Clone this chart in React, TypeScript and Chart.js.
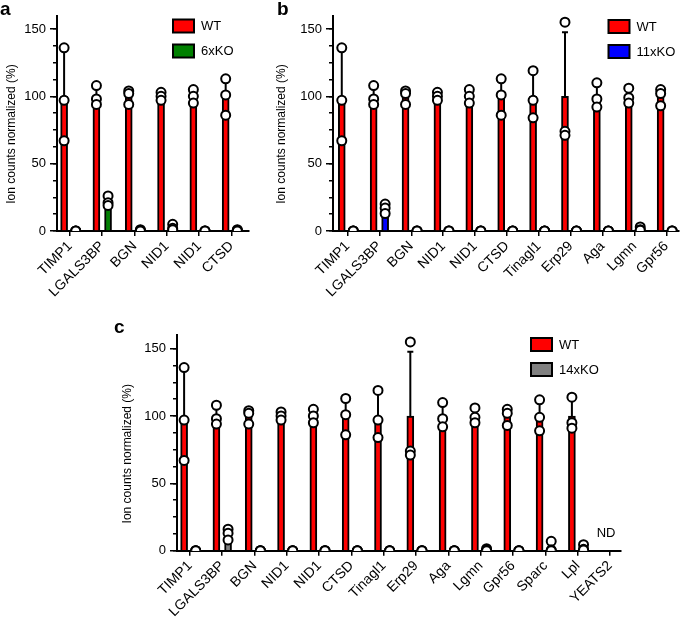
import React, { useEffect, useRef } from 'react';
import { Chart, registerables } from 'chart.js';

Chart.register(...registerables);

const FONT = "'Liberation Sans', Arial, Helvetica, sans-serif";

// Categories
const genesA = ['TIMP1', 'LGALS3BP', 'BGN', 'NID1', 'NID1', 'CTSD'];
const genesB = ['TIMP1', 'LGALS3BP', 'BGN', 'NID1', 'NID1', 'CTSD', 'Tinagl1', 'Erp29', 'Aga', 'Lgmn', 'Gpr56'];
const genesC = ['TIMP1', 'LGALS3BP', 'BGN', 'NID1', 'NID1', 'CTSD', 'Tinagl1', 'Erp29', 'Aga', 'Lgmn', 'Gpr56', 'Sparc', 'Lpl', 'YEATS2'];

// WT replicate values (%), one triple per gene (null = not detected)
const wtReplicates: (number[] | null)[] = [
  [136, 97, 67], [108, 98, 94], [104, 102, 94], [103, 100, 97], [105, 100, 95], [113, 101, 86],
  [119, 97, 84], [155, 74, 71], [110, 98, 92], [106, 99, 95], [105, 102, 93], [112, 99, 89],
  [114, 95, 91], null,
];

// KO replicate values (%)
const ko6Replicates: (number[] | null)[] = [
  [0, 0, 0], [26, 21, 19], [1, 0.5, 0], [5, 2, 1], [0, 0, 0], [1, 0.5, 0],
];
const ko11Replicates: (number[] | null)[] = [
  [0, 0, 0], [20, 17, 13], [0, 0, 0], [0, 0, 0], [0, 0, 0], [0, 0, 0],
  [0, 0, 0], [0, 0, 0], [0, 0, 0], [3, 1, 0.5], [0, 0, 0],
];
const ko14Replicates: (number[] | null)[] = [
  [0, 0, 0], [16, 13, 8], [0, 0, 0], [0, 0, 0], [0, 0, 0], [0, 0, 0],
  [0, 0, 0], [0, 0, 0], [0, 0, 0], [1.5, 0.5, 0], [0, 0, 0], [7, 0.5, 0],
  [4.5, 1, 0.5], null,
];

// Axis ticks
const yMajorTicks = [0, 50, 100, 150];
const yMinorTicks = [0, 12.5, 25, 37.5, 50, 62.5, 75, 87.5, 100, 112.5, 125, 137.5, 150];
const yMax = 160;
const yTitle = 'Ion counts normalized (%)';

const mean = (a: number[]) => a.reduce((s, v) => s + v, 0) / a.length;
const sd = (a: number[]) => {
  const m = mean(a);
  return Math.sqrt(a.reduce((s, v) => s + (v - m) * (v - m), 0) / (a.length - 1));
};

type PanelCfg = {
  letter: string;
  genes: string[];
  wt: (number[] | null)[];
  ko: (number[] | null)[];
  koLabel: string;
  koColor: string;
  left: number; top: number; width: number; height: number;
  yWidth: number; padTop: number; padRight: number; xHeight: number;
  xMin: number; xMax: number; off: number;
  titleX: number; titleValue: number;
  legendX: number; legendY: number;
  ndIndex?: number;
};

const decorPlugin = {
  id: 'decor',
  afterDraw(chart: any, _args: any, opts: any) {
    const { ctx, scales } = chart;
    const y = scales.y;
    const x = scales.x;
    ctx.save();
    // y-axis title
    ctx.translate(opts.titleX, y.getPixelForValue(opts.titleValue));
    ctx.rotate(-Math.PI / 2);
    ctx.font = `12px ${FONT}`;
    ctx.fillStyle = '#000';
    ctx.textAlign = 'center';
    ctx.textBaseline = 'middle';
    ctx.fillText(opts.title, 0, 0);
    ctx.restore();
    // legend
    ctx.save();
    ctx.font = `13px ${FONT}`;
    ctx.textBaseline = 'middle';
    ctx.textAlign = 'left';
    const bars = chart.data.datasets.filter((d: any) => d.type === 'bar');
    bars.forEach((d: any, i: number) => {
      const lx = opts.legendX;
      const ly = opts.legendY + i * 25;
      ctx.fillStyle = d.backgroundColor;
      ctx.fillRect(lx, ly, 21, 13);
      ctx.lineWidth = 2;
      ctx.strokeStyle = '#000';
      ctx.strokeRect(lx, ly, 21, 13);
      ctx.fillStyle = '#000';
      ctx.fillText(d.label, lx + 28, ly + 7);
    });
    // ND label
    if (opts.ndIndex !== undefined) {
      ctx.textAlign = 'center';
      ctx.fillText('ND', x.getPixelForValue(opts.ndIndex) - 4, y.getPixelForValue(13));
    }
    ctx.restore();
  },
};

function buildConfig(p: PanelCfg): any {
  const barSet = (reps: (number[] | null)[], off: number) =>
    reps.flatMap((r, i) => (r ? [{ x: i + off, y: mean(r) }] : []));
  const errSet = (reps: (number[] | null)[], off: number) =>
    reps.flatMap((r, i) =>
      r ? [{ x: i + off, y: mean(r) }, { x: i + off, y: mean(r) + sd(r) }, { x: i + off, y: null }] : []
    );
  const ptSet = (reps: (number[] | null)[], off: number) =>
    reps.flatMap((r, i) => (r ? r.map((v) => ({ x: i + off, y: v })) : []));

  const barCommon = {
    type: 'bar',
    grouped: false,
    barThickness: 7,
    borderWidth: 2,
    borderColor: '#000',
    order: 3,
  };
  const errCommon = {
    type: 'line',
    borderColor: '#000',
    borderWidth: 2,
    pointStyle: 'line',
    pointRadius: (c: any) => (c.dataIndex % 3 === 1 ? 3 : 0),
    pointBorderColor: '#000',
    pointBorderWidth: 2,
    spanGaps: false,
    fill: false,
    order: 2,
  };
  const ptCommon = {
    type: 'scatter',
    pointRadius: 4.5,
    pointBackgroundColor: '#fff',
    pointBorderColor: '#000',
    pointBorderWidth: 2,
    order: 1,
  };

  return {
    type: 'bar',
    data: {
      datasets: [
        { ...barCommon, label: 'WT', backgroundColor: '#ff0000', data: barSet(p.wt, -p.off) },
        { ...barCommon, label: p.koLabel, backgroundColor: p.koColor, data: barSet(p.ko, p.off) },
        { ...errCommon, label: 'errWT', data: errSet(p.wt, -p.off) },
        { ...errCommon, label: 'errKO', data: errSet(p.ko, p.off) },
        { ...ptCommon, label: 'ptWT', data: ptSet(p.wt, -p.off) },
        { ...ptCommon, label: 'ptKO', data: ptSet(p.ko, p.off) },
      ],
    },
    options: {
      responsive: true,
      maintainAspectRatio: false,
      animation: false,
      events: [],
      layout: { padding: { left: 0, top: p.padTop, right: p.padRight, bottom: 0 } },
      plugins: {
        legend: { display: false },
        tooltip: { enabled: false },
        decor: {
          title: yTitle,
          titleX: p.titleX,
          titleValue: p.titleValue,
          legendX: p.legendX,
          legendY: p.legendY,
          ndIndex: p.ndIndex,
        },
      },
      scales: {
        x: {
          type: 'linear',
          min: p.xMin,
          max: p.xMax,
          position: 'bottom',
          offset: false,
          afterBuildTicks: (s: any) => {
            s.ticks = p.genes.map((_, i) => ({ value: i }));
          },
          afterFit: (s: any) => {
            s.height = p.xHeight;
          },
          ticks: {
            autoSkip: false,
            minRotation: 45,
            maxRotation: 45,
            padding: 2,
            color: '#000',
            font: { size: 14, family: FONT },
            callback: (v: number) => p.genes[v],
          },
          grid: { offset: false, drawOnChartArea: false, drawTicks: true, tickLength: 5, color: '#000', lineWidth: 1.5 },
          border: { display: true, color: '#000', width: 2 },
        },
        y: {
          type: 'linear',
          min: 0,
          max: yMax,
          position: 'left',
          weight: 1,
          afterBuildTicks: (s: any) => {
            s.ticks = yMajorTicks.map((v) => ({ value: v }));
          },
          afterFit: (s: any) => {
            s.width = p.yWidth;
          },
          ticks: { padding: 4, color: '#000', font: { size: 13, family: FONT } },
          grid: { offset: false, drawOnChartArea: false, tickLength: 7, color: '#000', lineWidth: 1.5 },
          border: { display: true, color: '#000', width: 2 },
        },
        yMinor: {
          type: 'linear',
          min: 0,
          max: yMax,
          position: 'left',
          weight: 0,
          afterBuildTicks: (s: any) => {
            s.ticks = yMinorTicks.map((v) => ({ value: v }));
          },
          afterFit: (s: any) => {
            s.width = 0;
          },
          ticks: { display: false },
          grid: { offset: false, drawOnChartArea: false, tickLength: 4, color: '#000', lineWidth: 1.5 },
          border: { display: false },
        },
      },
    },
    plugins: [decorPlugin],
  };
}

const panels: PanelCfg[] = [
  {
    letter: 'a', genes: genesA, wt: wtReplicates.slice(0, 6), ko: ko6Replicates,
    koLabel: '6xKO', koColor: '#008000',
    left: 0, top: 0, width: 262, height: 310,
    yWidth: 57, padTop: 15.5, padRight: 13.7, xHeight: 79,
    xMin: -0.4, xMax: 5.52, off: 0.18,
    titleX: 12, titleValue: 72, legendX: 173, legendY: 19.5,
  },
  {
    letter: 'b', genes: genesB, wt: wtReplicates.slice(0, 11), ko: ko11Replicates,
    koLabel: '11xKO', koColor: '#0000ff',
    left: 270, top: 0, width: 415, height: 310,
    yWidth: 63, padTop: 15.5, padRight: 2, xHeight: 79,
    xMin: -0.455, xMax: 10.38, off: 0.18,
    titleX: 12, titleValue: 72, legendX: 338.5, legendY: 20,
  },
  {
    letter: 'c', genes: genesC, wt: wtReplicates, ko: ko14Replicates,
    koLabel: '14xKO', koColor: '#808080',
    left: 110, top: 320, width: 575, height: 300,
    yWidth: 67, padTop: 15.2, padRight: 64.3, xHeight: 69.3,
    xMin: -0.4, xMax: 13.33, off: 0.18,
    titleX: 18, titleValue: 72, legendX: 421, legendY: 18, ndIndex: 13,
  },
];

function Panel({ cfg }: { cfg: PanelCfg }) {
  const ref = useRef<HTMLCanvasElement | null>(null);
  useEffect(() => {
    if (!ref.current) return;
    const chart = new Chart(ref.current, buildConfig(cfg));
    return () => chart.destroy();
  }, [cfg]);
  return (
    <div style={{ position: 'absolute', left: cfg.left, top: cfg.top, width: cfg.width, height: cfg.height }}>
      <canvas ref={ref} />
    </div>
  );
}

const letterPos: Record<string, { left: number; top: number }> = {
  a: { left: 0, top: 0 },
  b: { left: 277, top: 0 },
  c: { left: 114, top: 318 },
};

export default function App() {
  return (
    <div style={{ position: 'absolute', left: 0, top: 0, width: 685, height: 620, background: '#fff', overflow: 'hidden' }}>
      {panels.map((p) => (
        <Panel key={p.letter} cfg={p} />
      ))}
      {panels.map((p) => (
        <div
          key={'l' + p.letter}
          style={{
            position: 'absolute', left: letterPos[p.letter].left, top: letterPos[p.letter].top,
            font: `bold 19px ${FONT}`, lineHeight: '18px', color: '#000',
          }}
        >
          {p.letter}
        </div>
      ))}
    </div>
  );
}
